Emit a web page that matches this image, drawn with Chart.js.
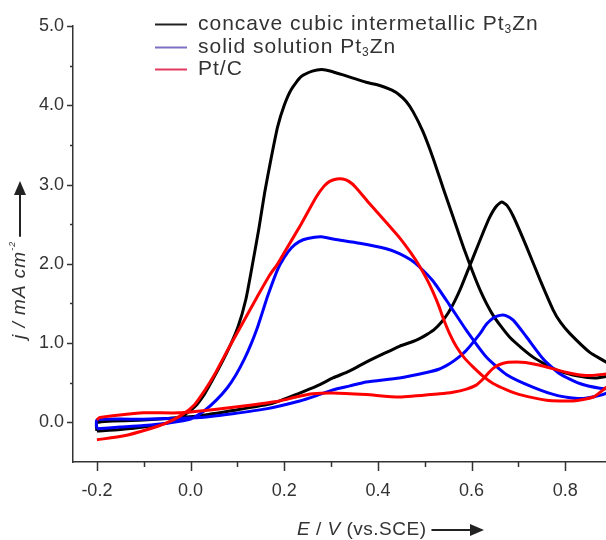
<!DOCTYPE html>
<html>
<head>
<meta charset="utf-8">
<script src="https://cdn.jsdelivr.net/npm/chart.js@4.4.1/dist/chart.umd.min.js"></script>
<style>
  html, body { margin: 0; padding: 0; background: #fff; }
</style>
</head>
<body>
<canvas id="cv" width="606" height="540"></canvas>
<script>
// potential (V vs SCE) and current density (mA cm^-2)
// each list walks once round the CV loop: anodic sweep then the return sweep
const intermetallicE = [-0.2, -0.15, -0.1, -0.05, -0.02, 0.008, 0.03, 0.051, 0.079, 0.101, 0.118, 0.133, 0.146, 0.158, 0.172, 0.186, 0.2, 0.215, 0.236, 0.26, 0.28, 0.3, 0.332, 0.375, 0.404, 0.43, 0.446, 0.46, 0.475, 0.496, 0.518, 0.539, 0.56, 0.585, 0.618, 0.646, 0.682, 0.732, 0.782, 0.831, 0.867, 0.9,
  0.9, 0.887, 0.853, 0.81, 0.79, 0.774, 0.746, 0.717, 0.689, 0.675, 0.664, 0.652, 0.638, 0.625, 0.608, 0.593, 0.578, 0.564, 0.55, 0.535, 0.52, 0.505, 0.49, 0.475, 0.446, 0.41, 0.375, 0.34, 0.304, 0.27, 0.233, 0.175, 0.09, 0.02, -0.05, -0.1, -0.2, -0.2];
const intermetallicJ = [-0.11, -0.09, -0.06, -0.01, 0.07, 0.19, 0.36, 0.58, 0.9, 1.2, 1.55, 2.02, 2.45, 2.89, 3.33, 3.73, 4.0, 4.2, 4.36, 4.43, 4.45, 4.43, 4.37, 4.29, 4.25, 4.19, 4.13, 4.05, 3.92, 3.67, 3.33, 2.96, 2.6, 2.17, 1.67, 1.35, 1.07, 0.82, 0.66, 0.58, 0.56, 0.6,
  0.68, 0.76, 0.88, 1.12, 1.26, 1.42, 1.8, 2.22, 2.6, 2.74, 2.78, 2.72, 2.58, 2.4, 2.15, 1.93, 1.71, 1.53, 1.38, 1.26, 1.17, 1.11, 1.06, 1.02, 0.96, 0.86, 0.76, 0.65, 0.56, 0.46, 0.37, 0.24, 0.15, 0.085, 0.05, 0.03, 0.0, -0.11];

const solidE = [-0.2, -0.15, -0.1, -0.05, 0.0, 0.03, 0.055, 0.079, 0.097, 0.115, 0.13, 0.143, 0.154, 0.165, 0.186, 0.2, 0.215, 0.232, 0.25, 0.279, 0.307, 0.361, 0.418, 0.446, 0.47, 0.489, 0.518, 0.553, 0.589, 0.632, 0.675, 0.732, 0.782, 0.831, 0.874, 0.9,
  0.9, 0.874, 0.831, 0.789, 0.753, 0.717, 0.689, 0.672, 0.66, 0.647, 0.632, 0.618, 0.589, 0.57, 0.553, 0.53, 0.504, 0.446, 0.375, 0.34, 0.304, 0.27, 0.233, 0.161, 0.09, 0.019, -0.1, -0.2, -0.2];
const solidJ = [-0.08, -0.06, -0.04, -0.01, 0.04, 0.15, 0.28, 0.44, 0.6, 0.8, 1.0, 1.2, 1.4, 1.6, 1.93, 2.08, 2.2, 2.28, 2.32, 2.34, 2.31, 2.26, 2.19, 2.13, 2.05, 1.96, 1.78, 1.48, 1.16, 0.82, 0.6, 0.44, 0.34, 0.3, 0.34, 0.4,
  0.42, 0.43, 0.49, 0.61, 0.8, 1.08, 1.29, 1.35, 1.35, 1.32, 1.24, 1.12, 0.91, 0.81, 0.74, 0.67, 0.63, 0.56, 0.51, 0.46, 0.41, 0.34, 0.27, 0.17, 0.11, 0.06, 0.04, 0.03, -0.08];

const ptcE = [-0.2, -0.142, -0.092, -0.056, -0.021, 0.008, 0.03, 0.051, 0.079, 0.108, 0.14, 0.168, 0.186, 0.204, 0.236, 0.268, 0.285, 0.297, 0.312, 0.325, 0.338, 0.352, 0.382, 0.418, 0.446, 0.47, 0.489, 0.505, 0.518, 0.53, 0.539, 0.553, 0.568, 0.585, 0.603, 0.625, 0.646, 0.675, 0.703, 0.76, 0.817, 0.86, 0.887, 0.9,
  0.9, 0.887, 0.846, 0.803, 0.746, 0.715, 0.696, 0.675, 0.66, 0.648, 0.637, 0.625, 0.61, 0.589, 0.56, 0.532, 0.446, 0.375, 0.304, 0.261, 0.225, 0.19, 0.118, 0.047, -0.024, -0.1, -0.156, -0.195, -0.2];
const ptcJ = [-0.22, -0.17, -0.09, -0.02, 0.085, 0.22, 0.4, 0.6, 0.91, 1.22, 1.56, 1.85, 2.0, 2.18, 2.5, 2.84, 2.98, 3.04, 3.07, 3.07, 3.04, 2.97, 2.76, 2.52, 2.33, 2.14, 1.97, 1.8, 1.64, 1.47, 1.32, 1.12, 0.95, 0.81, 0.7, 0.58, 0.49, 0.41, 0.35, 0.28, 0.27, 0.32, 0.44, 0.5,
  0.62, 0.61, 0.59, 0.63, 0.72, 0.755, 0.76, 0.755, 0.73, 0.69, 0.63, 0.55, 0.47, 0.42, 0.38, 0.36, 0.32, 0.35, 0.37, 0.36, 0.32, 0.27, 0.21, 0.16, 0.12, 0.12, 0.09, 0.06, 0.03];

const xLabels = [-0.2, 0.0, 0.2, 0.4, 0.6, 0.8];
const yLabels = [0, 1, 2, 3, 4, 5];

const FONT = "'Liberation Sans', Arial, sans-serif";

function pts(xs, ys) {
  return xs.map((v, i) => ({ x: v, y: ys[i] }));
}

// draws a run of text pieces with their own font / vertical shift
function drawRich(ctx, parts, x, y) {
  parts.forEach(p => {
    ctx.font = p.font;
    ctx.fillText(p.t, x, y + (p.dy || 0));
    x += ctx.measureText(p.t).width;
  });
  return x;
}

const decor = {
  id: 'decor',
  afterDraw(chart) {
    const { ctx } = chart;
    const xs = chart.scales.x, ys = chart.scales.y;
    const area = chart.chartArea;
    ctx.save();
    ctx.strokeStyle = '#333';
    ctx.lineWidth = 1.5;

    // tick marks, long on labelled values, short between
    for (let i = -2; i <= 8; i++) {
      const px = Math.round(xs.getPixelForValue(i / 10)) + 0.5;
      const len = i % 2 === 0 ? 9 : 5;
      ctx.beginPath();
      ctx.moveTo(px, area.bottom);
      ctx.lineTo(px, area.bottom + len);
      ctx.stroke();
    }
    for (let i = 0; i <= 10; i++) {
      const py = Math.round(ys.getPixelForValue(i / 2)) + 0.5;
      const len = i % 2 === 0 ? 6 : 3;
      ctx.beginPath();
      ctx.moveTo(area.left, py);
      ctx.lineTo(area.left - len, py);
      ctx.stroke();
    }

    ctx.fillStyle = '#333';
    ctx.textBaseline = 'middle';
    ctx.letterSpacing = '0.5px';

    // x title with arrow
    let endX = drawRich(ctx, [
      { t: 'E', font: 'italic 19px ' + FONT },
      { t: ' / ', font: '19px ' + FONT },
      { t: 'V', font: 'italic 19px ' + FONT },
      { t: ' (vs.SCE)', font: '19px ' + FONT }
    ], 297, 530);
    ctx.fillStyle = '#222';
    ctx.strokeStyle = '#222';
    ctx.lineWidth = 2;
    ctx.beginPath();
    ctx.moveTo(endX + 5, 530);
    ctx.lineTo(474, 530);
    ctx.stroke();
    ctx.beginPath();
    ctx.moveTo(484, 530);
    ctx.lineTo(470, 524);
    ctx.lineTo(470, 536);
    ctx.closePath();
    ctx.fill();

    // y title, rotated, with arrow
    ctx.save();
    ctx.translate(20, 339);
    ctx.rotate(-Math.PI / 2);
    ctx.fillStyle = '#333';
    ctx.letterSpacing = '1px';
    let endY = drawRich(ctx, [
      { t: 'j / mA cm', font: 'italic 19px ' + FONT },
      { t: '-2', font: 'italic 9px ' + FONT, dy: -8 }
    ], 0, 0);
    ctx.fillStyle = '#222';
    ctx.beginPath();
    ctx.moveTo(endY + 4, 0);
    ctx.lineTo(147, 0);
    ctx.stroke();
    ctx.beginPath();
    ctx.moveTo(158, 0);
    ctx.lineTo(144, -6);
    ctx.lineTo(144, 6);
    ctx.closePath();
    ctx.fill();
    ctx.restore();

    // legend
    ctx.letterSpacing = '1px';
    const legend = [
      { color: '#222', parts: [
        { t: 'concave cubic intermetallic Pt', font: '21px ' + FONT },
        { t: '3', font: '12px ' + FONT, dy: 6 },
        { t: 'Zn', font: '21px ' + FONT }] },
      { color: '#7b70c4', parts: [
        { t: 'solid solution Pt', font: '21px ' + FONT },
        { t: '3', font: '12px ' + FONT, dy: 6 },
        { t: 'Zn', font: '21px ' + FONT }] },
      { color: '#e23a5f', parts: [
        { t: 'Pt/C', font: '21px ' + FONT }] }
    ];
    const rows = [24, 47, 69];
    legend.forEach((item, i) => {
      ctx.strokeStyle = item.color;
      ctx.lineWidth = 2;
      ctx.beginPath();
      ctx.moveTo(155, rows[i] + 0.5);
      ctx.lineTo(187, rows[i] + 0.5);
      ctx.stroke();
      ctx.fillStyle = '#333';
      drawRich(ctx, item.parts, 198, rows[i]);
    });
    ctx.restore();
  }
};

const ctx = document.getElementById('cv').getContext('2d');

new Chart(ctx, {
  type: 'scatter',
  data: {
    datasets: [
      { label: 'concave cubic intermetallic Pt3Zn', data: pts(intermetallicE, intermetallicJ), borderColor: '#000', order: 3 },
      { label: 'solid solution Pt3Zn', data: pts(solidE, solidJ), borderColor: '#0000ff', order: 2 },
      { label: 'Pt/C', data: pts(ptcE, ptcJ), borderColor: '#ff0000', order: 1 }
    ].map(d => Object.assign(d, { showLine: true, pointRadius: 0, borderWidth: 3, tension: 0.2, fill: false }))
  },
  options: {
    responsive: false,
    animation: false,
    layout: { padding: { top: 26, right: 0, left: 0, bottom: 0 } },
    plugins: { legend: { display: false }, tooltip: { enabled: false } },
    scales: {
      x: {
        type: 'linear',
        min: -0.251,
        max: 0.887,
        afterBuildTicks: s => { s.ticks = xLabels.map(v => ({ value: v })); },
        afterFit: s => { s.height = 78; },
        grid: { display: true, drawOnChartArea: false, drawTicks: false },
        border: { color: '#333', width: 1.5 },
        ticks: {
          font: { family: FONT, size: 18 },
          color: '#333',
          padding: 18,
          maxRotation: 0,
          autoSkip: false,
          callback: v => v.toFixed(1)
        }
      },
      y: {
        type: 'linear',
        min: -0.5,
        max: 5.0,
        afterBuildTicks: s => { s.ticks = yLabels.map(v => ({ value: v })); },
        afterFit: s => { s.width = 73; },
        grid: { display: true, drawOnChartArea: false, drawTicks: false },
        border: { color: '#333', width: 1.5 },
        ticks: {
          font: { family: FONT, size: 18 },
          color: '#333',
          padding: 9,
          autoSkip: false,
          callback: v => v.toFixed(1)
        }
      }
    }
  },
  plugins: [decor]
});
</script>
</body>
</html>
